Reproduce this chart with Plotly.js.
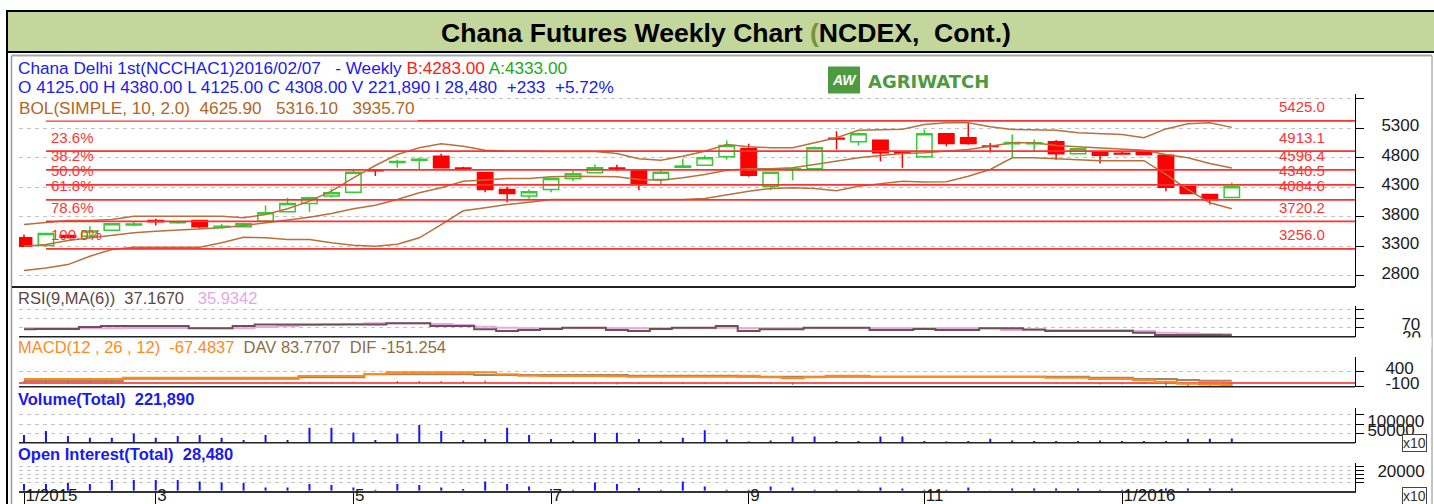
<!DOCTYPE html>
<html><head><meta charset="utf-8">
<script src="https://cdn.plot.ly/plotly-3.0.1.min.js"></script>
<style>html,body{margin:0;padding:0;background:#fff;overflow:hidden}#chart{width:1434px;height:504px}</style>
</head><body><div id="chart"></div>
<script>
// ---------- DATA ----------
const weeks = ['2015-01-18','2015-01-25','2015-02-01','2015-02-08','2015-02-15','2015-02-22','2015-03-01','2015-03-08','2015-03-15','2015-03-22','2015-03-29','2015-04-05','2015-04-12','2015-04-19','2015-04-26','2015-05-03','2015-05-10','2015-05-17','2015-05-24','2015-05-31','2015-06-07','2015-06-14','2015-06-21','2015-06-28','2015-07-05','2015-07-12','2015-07-19','2015-07-26','2015-08-02','2015-08-09','2015-08-16','2015-08-23','2015-08-30','2015-09-06','2015-09-13','2015-09-20','2015-09-27','2015-10-04','2015-10-11','2015-10-18','2015-10-25','2015-11-01','2015-11-08','2015-11-15','2015-11-22','2015-11-29','2015-12-06','2015-12-13','2015-12-20','2015-12-27','2016-01-03','2016-01-10','2016-01-17','2016-01-24','2016-01-31','2016-02-07'];
const openP  = [3442,3310,3480,3470,3571,3660,3735,3700,3735,3625,3630,3724,3884,4024,4150,4216,4590,4720,4760,4827,4625,4545,4262,4150,4262,4450,4545,4625,4585,4432,4640,4674,4817,4958,4318,4600,4613,5130,5071,5099,4895,4817,5207,5139,5000,5040,5040,5072,4868,4902,4875,4912,4844,4308,4177,4125];
const highP  = [3499,3530,3500,3640,3690,3720,3765,3725,3750,3680,3690,3990,4121,4140,4274,4613,4600,4765,4800,4870,4650,4560,4308,4262,4460,4580,4686,4680,4600,4600,4783,4839,5093,5037,4560,4640,4990,5251,5230,5110,4900,5280,5220,5404,5050,5195,5110,5100,4965,4920,4900,4920,4860,4330,4190,4380];
const lowP   = [3290,3290,3430,3440,3560,3640,3650,3680,3595,3600,3620,3710,3870,3884,4120,4200,4490,4630,4610,4620,4600,4217,4047,4104,4216,4400,4540,4580,4250,4350,4640,4660,4770,4478,4250,4420,4600,4941,5009,4742,4630,4800,4997,5020,4890,4800,4920,4767,4860,4703,4850,4850,4233,4180,4007,4125];
const closeP = [3300,3515,3450,3560,3680,3675,3715,3715,3630,3640,3680,3867,4024,4121,4206,4556,4580,4735,4775,4630,4615,4262,4194,4223,4450,4530,4630,4610,4347,4556,4660,4800,5009,4505,4556,4615,4970,5120,5207,4885,4880,5207,5043,5043,4990,5060,5055,4868,4953,4844,4865,4856,4301,4194,4092,4308];
const bolUpper = [3668,3707,3736,3736,3753,3809,3809,3815,3821,3810,3782,3838,3935,4064,4233,4460,4669,4856,4970,5037,4997,4929,4912,4905,4905,4905,4905,4873,4783,4760,4827,4912,5026,4987,4970,4970,5054,5139,5268,5280,5285,5365,5394,5394,5326,5280,5268,5268,5224,5212,5195,5139,5290,5377,5394,5316];
const bolMid   = [3300,3329,3397,3442,3481,3527,3555,3572,3595,3612,3651,3697,3736,3792,3855,3935,3996,4092,4206,4291,4403,4432,4449,4449,4478,4488,4488,4480,4432,4420,4460,4517,4590,4613,4613,4630,4686,4742,4800,4839,4873,4885,4912,4941,4997,5054,5054,5009,4987,4970,4953,4929,4856,4800,4703,4626];
const bolLower = [2887,2930,2988,3130,3244,3283,3283,3283,3283,3357,3453,3442,3413,3413,3357,3317,3300,3334,3442,3668,3900,3951,4007,4047,4092,4092,4092,4092,4092,4092,4092,4110,4177,4233,4279,4290,4279,4240,4318,4364,4403,4390,4393,4488,4601,4800,4800,4783,4766,4750,4750,4750,4517,4262,4036,3936];
const rsiValues = [62,63,63,71,75,75,75,75,66,66,75,82,82,82,82,82,82,87,87,75,75,62,55,59,63,68,68,59,55,63,68,68,75,55,62,62,68,68,68,59,59,63,59,59,66,66,61,55,55,55,55,47,38,38,38,37];
const rsiMaValues = [66,66,66,66,66,67,67,67,67,66,66,71,75,80,82,84,87,87,87,84,80,72,68,66,66,66,66,66,66,66,66,66,68,66,66,66,66,66,66,66,66,66,66,66,66,59,59,59,59,59,59,55,47,45,42,42];
const macdValues = [139,139,139,139,139,184,184,184,184,184,184,184,184,241,241,241,310,367,367,367,367,367,300,252,240,240,240,230,218,218,218,218,218,252,200,163,200,252,252,220,220,220,220,220,220,220,220,184,184,139,139,105,48,-20,-45,-67];
const davValues  = [71,71,71,71,71,150,150,150,150,150,150,150,150,197,197,197,299,299,299,299,299,276,276,276,276,276,276,276,252,252,252,252,252,218,218,218,218,218,218,218,218,218,218,218,218,218,218,218,218,184,184,139,139,105,80,84];
const difValues  = [68,68,68,68,68,34,34,34,34,34,34,34,34,44,44,44,11,68,68,68,68,91,24,-24,-36,-36,-36,-46,-34,-34,-34,-34,-34,34,-18,-55,-18,34,34,2,2,2,2,2,2,2,2,-34,-34,-45,-45,-34,-91,-125,-125,-151];
const volumeValues = [412350,626100,358200,267400,267900,497300,266800,358600,412100,267200,144300,411800,144600,802400,801700,551200,144100,465300,947500,625800,143900,198200,802100,412400,198400,107300,535200,534800,198100,107100,267300,668400,176200,70100,123300,337400,337100,91200,91400,337200,336900,91100,70300,91300,214200,123100,91200,91400,91100,123200,91300,91200,91400,214100,214300,221890];
const openInterestValues = [82900,82900,95300,82900,132400,132400,132400,132400,115100,102700,95300,40800,40800,82900,70500,40800,12400,82900,70500,40800,21000,115100,82900,53200,21000,12400,102700,82900,33400,12400,115100,51000,12400,12400,53200,40800,12400,12400,12400,40800,28500,12400,12400,40800,4000,28500,28500,28500,28500,12400,12400,12400,28500,28500,28500,28480];
const fibLevels = [5425.0,4913.1,4596.4,4340.5,4084.6,3720.2,3256.0];
const fibPctLabels = ['','23.6%','38.2%','50.0%','61.8%','78.6%','100.0%'];
const fibValueLabels = ['5425.0','4913.1','4596.4','4340.5','4084.6','3720.2','3256.0'];
const monthTickDates = ['2015-01-18','2015-03-01','2015-05-03','2015-07-05','2015-09-06','2015-11-01','2016-01-03'];
const monthTickLabels = ['1/2015','3','5','7','9','11','1/2016'];
const priceTicks = [2800,3300,3800,4300,4800,5300,5800];
const priceTickLabels = ['2800','3300','3800','4300','4800','5300',''];
const rsiTicks = [70,108,146];
const rsiTickLabels = ['70','',''];
const macdTicks = [-100,400,900];
const macdTickLabels = ['-100','400',''];
const volumeTicks = [500000,1000000,1500000];
const volumeTickLabels = ['50000','100000',''];
const oiTicks = [100000,150000,200000,250000,300000];
const oiTickLabels = ['','','20000','',''];

// ---------- LAYOUT HELPERS ----------
const W = 1434, H = 504;
const px = x => x / W;
const py = y => 1 - y / H;
const FONT = 'Liberation Sans, Arial, sans-serif';
const t0 = Date.parse(weeks[0]);
const wk = Date.parse(weeks[1]) - t0;
const SP = 21.96; // px per week
const toStr = ms => new Date(ms).toISOString().replace('T', ' ').replace('Z', '');
const xStart = toStr(t0 - (24 - 19) / SP * wk);
const xEnd = toStr(t0 + (1355 - 24) / SP * wk);

const gridDash = '4px,4px';
const yCommon = {
  side: 'right', anchor: 'x', showline: true, linecolor: '#000', linewidth: 1,
  ticks: 'outside', ticklen: 8, tickcolor: '#000', tickwidth: 1,
  showgrid: true, gridcolor: '#c4c4c4', griddash: gridDash, gridwidth: 1,
  zeroline: false, tickmode: 'array', ticklabelshift: -3,
  tickfont: {family: FONT, size: 17, color: '#1a1a1a'}, fixedrange: true
};

const traces = [];
// Bollinger bands
[bolUpper, bolMid, bolLower].forEach(arr => traces.push({
  type: 'scatter', mode: 'lines', x: weeks, y: arr, xaxis: 'x', yaxis: 'y',
  line: {color: '#b8703c', width: 1.5}, hoverinfo: 'skip'
}));
// Fibonacci lines
fibLevels.forEach(v => traces.push({
  type: 'scatter', mode: 'lines', x: [weeks[1], xEnd], y: [v, v], xaxis: 'x', yaxis: 'y',
  line: {color: '#ff3030', width: 1.8}, hoverinfo: 'skip'
}));
// Candles
traces.push({
  type: 'candlestick', x: weeks, open: openP, high: highP, low: lowP, close: closeP,
  xaxis: 'x', yaxis: 'y', whiskerwidth: 0, hoverinfo: 'skip',
  increasing: {line: {color: '#33cc33', width: 1.5}, fillcolor: '#ffffff'},
  decreasing: {line: {color: '#ff0000', width: 1.5}, fillcolor: '#ff0000'}
});
// RSI
traces.push({type: 'scatter', mode: 'lines', x: weeks, y: rsiMaValues, xaxis: 'x', yaxis: 'y2',
  line: {color: '#e8a6e8', width: 2, shape: 'hvh'}, hoverinfo: 'skip'});
traces.push({type: 'scatter', mode: 'lines', x: weeks, y: rsiValues, xaxis: 'x', yaxis: 'y2',
  line: {color: '#6e5252', width: 2, shape: 'hvh'}, hoverinfo: 'skip'});
// MACD
traces.push({type: 'bar', x: weeks, y: difValues, xaxis: 'x', yaxis: 'y3',
  width: 1.3 / SP * wk, marker: {color: '#8a6a40', line: {width: 0}}, hoverinfo: 'skip'});
traces.push({type: 'scatter', mode: 'lines', x: weeks, y: davValues, xaxis: 'x', yaxis: 'y3',
  line: {color: '#a8845c', width: 2, shape: 'hvh'}, hoverinfo: 'skip'});
traces.push({type: 'scatter', mode: 'lines', x: weeks, y: macdValues, xaxis: 'x', yaxis: 'y3',
  line: {color: '#ff8a1c', width: 2, shape: 'hvh'}, hoverinfo: 'skip'});
// Volume
traces.push({type: 'bar', x: weeks, y: volumeValues, xaxis: 'x', yaxis: 'y4',
  width: 2 / SP * wk, marker: {color: '#1414ff', line: {width: 0}}, hoverinfo: 'skip'});
// Open interest
traces.push({type: 'bar', x: weeks, y: openInterestValues, xaxis: 'x', yaxis: 'y5',
  width: 2 / SP * wk, marker: {color: '#1414ff', line: {width: 0}}, hoverinfo: 'skip'});

const shapes = [
  // title band
  {type: 'rect', xref: 'paper', yref: 'paper', x0: px(7), x1: px(1440), y0: py(52), y1: py(11),
   fillcolor: '#c3d69b', line: {color: '#000', width: 2}, layer: 'below'},
  // outer frame
  {type: 'line', xref: 'paper', yref: 'paper', x0: px(7), x1: px(7), y0: py(52), y1: py(510), line: {color: '#000', width: 2}},
  {type: 'line', xref: 'paper', yref: 'paper', x0: px(11.5), x1: px(11.5), y0: py(55.5), y1: py(510), line: {color: '#9a9a9a', width: 1.5}},
  {type: 'line', xref: 'paper', yref: 'paper', x0: px(11.5), x1: px(1432), y0: py(55.5), y1: py(55.5), line: {color: '#a8a8a8', width: 2}},
  {type: 'line', xref: 'paper', yref: 'paper', x0: px(1432), x1: px(1432), y0: py(55.5), y1: py(510), line: {color: '#b0b0b0', width: 1.5}},
  // logo box
  {type: 'rect', xref: 'paper', yref: 'paper', x0: px(828), x1: px(860), y0: py(93.5), y1: py(66.5),
   fillcolor: '#4d9a40', line: {width: 0}},
  // panel separators
  {type: 'line', xref: 'paper', yref: 'y domain', x0: px(12), x1: px(1355), y0: 0, y1: 0, line: {color: '#222', width: 2}},
  {type: 'line', xref: 'x domain', yref: 'y2 domain', x0: 0, x1: 1, y0: 0, y1: 0, line: {color: '#222', width: 1.5}},
  {type: 'line', xref: 'x domain', yref: 'y3 domain', x0: 0, x1: 1, y0: 0, y1: 0, line: {color: '#222', width: 1.5}},
  {type: 'line', xref: 'x domain', yref: 'y4 domain', x0: 0, x1: 1, y0: 0, y1: 0, line: {color: '#222', width: 1.5}},
  // MACD zero line
  {type: 'line', xref: 'x domain', yref: 'y3', x0: 0, x1: 1, y0: 0, y1: 0, line: {color: '#ff2020', width: 1.5}, layer: 'below'}
];

const nb = '\u00a0';
const ann = (x, y, text, opts) => Object.assign({
  xref: 'paper', yref: 'paper', x: px(x), y: py(y), text: text, showarrow: false,
  xanchor: 'left', yanchor: 'middle', font: {family: FONT, size: 16, color: '#000'}
}, opts || {});

const annotations = [
  ann(725.5, 33.5, 'Chana Futures Weekly Chart <span style="color:#76923c">(</span>NCDEX,' + nb + nb + 'Cont.)',
      {xanchor: 'center', font: {family: FONT, size: 26.6, color: '#000', weight: 700}}),
  ann(16, 68, 'Chana Delhi 1st(NCCHAC1)2016/02/07' + nb + nb + nb + '- Weekly <span style="color:#ff1a1a">B:4283.00</span> <span style="color:#1aaa1a">A:4333.00</span>',
      {font: {family: FONT, size: 17.2, color: '#2020ee'}}),
  ann(16, 86.5, 'O 4125.00 H 4380.00 L 4125.00 C 4308.00 V 221,890 I 28,480' + nb + nb + '+233' + nb + nb + '+5.72%',
      {font: {family: FONT, size: 17.2, color: '#2020ee'}}),
  ann(16, 108, 'BOL(SIMPLE, 10, 2.0)' + nb + nb + '4625.90' + nb + nb + nb + '5316.10' + nb + nb + nb + '3935.70',
      {font: {family: FONT, size: 17.2, color: '#b5651d'}, bgcolor: '#ffffff', borderpad: 2}),
  ann(844, 80, 'AW', {xanchor: 'center', font: {family: FONT, size: 14, color: '#ffffff', weight: 700, style: 'italic'}}),
  ann(866, 81.5, 'AGRIWATCH', {font: {family: 'DejaVu Sans, sans-serif', size: 18, color: '#4d9a40', weight: 700}}),
  ann(16, 297.5, 'RSI(9,MA(6))' + nb + nb + '37.1670' + nb + nb + nb + '<span style="color:#e6a6e6">35.9342</span>',
      {font: {family: FONT, size: 16.5, color: '#5a4848'}}),
  ann(16, 346.5, '<span style="color:#ff8a1c">MACD(12 , 26 , 12)' + nb + nb + '-67.4837</span>' + nb + nb + 'DAV 83.7707' + nb + nb + 'DIF -151.254',
      {font: {family: FONT, size: 16.5, color: '#8c6e44'}}),
  ann(16, 399, 'Volume(Total)' + nb + nb + '221,890', {font: {family: FONT, size: 16.5, color: '#1a1aee', weight: 700}}),
  ann(16, 454, 'Open Interest(Total)' + nb + nb + '28,480', {font: {family: FONT, size: 16.5, color: '#1a1aee', weight: 700}}),
  // RSI "20" label, partly hidden below the panel
  ann(1400, 337, '20', {font: {family: FONT, size: 17, color: '#1a1a1a'}}),
  ann(1408, 342.5, nb, {xanchor: 'center', width: 46, height: 9, bgcolor: '#ffffff', borderpad: 0}),
  // x10 boxes
  ann(1414.5, 442.5, 'x10', {xanchor: 'center', font: {family: FONT, size: 14, color: '#333'}, bgcolor: '#ffffff', bordercolor: '#444', borderwidth: 1, borderpad: 0}),
  ann(1414.5, 496, 'x10', {xanchor: 'center', font: {family: FONT, size: 14, color: '#333'}, bgcolor: '#ffffff', bordercolor: '#444', borderwidth: 1, borderpad: 0})
];
// Fibonacci labels
fibLevels.forEach((v, k) => {
  annotations.push({xref: 'paper', yref: 'y', x: px(1277), y: v, yshift: 14, text: fibValueLabels[k], showarrow: false,
    xanchor: 'left', yanchor: 'middle', font: {family: FONT, size: 15, color: '#ff3333'}});
  if (fibPctLabels[k]) annotations.push({xref: 'x', yref: 'y', x: weeks[1], xshift: 3, y: v, yshift: 14, text: fibPctLabels[k],
    showarrow: false, xanchor: 'left', yanchor: 'middle', font: {family: FONT, size: 15, color: '#ff3333'}});
});

const layout = {
  width: W, height: H, margin: {l: 0, r: 0, t: 0, b: 0, pad: 0},
  paper_bgcolor: '#ffffff', plot_bgcolor: 'rgba(0,0,0,0)', showlegend: false, hovermode: false,
  barmode: 'overlay', boxgap: 0.3, boxgroupgap: 0,
  xaxis: {type: 'date', domain: [px(19), px(1355)], range: [xStart, xEnd], anchor: 'y5',
    showline: true, linecolor: '#333', linewidth: 2, ticks: 'outside', ticklen: 14, tickcolor: '#000', tickwidth: 1,
    tickmode: 'array', tickvals: monthTickDates, ticktext: monthTickLabels, ticklabelposition: 'outside right',
    ticklabelstandoff: -12, tickfont: {family: FONT, size: 17, color: '#1a1a1a'}, showgrid: false, zeroline: false,
    rangeslider: {visible: false}, fixedrange: true},
  yaxis: Object.assign({}, yCommon, {domain: [py(287), py(94.3)], range: [2608, 5877],
    tickvals: priceTicks, ticktext: priceTickLabels, ticklabelstandoff: 14}),
  yaxis2: Object.assign({}, yCommon, {domain: [py(336.7), py(306)], range: [30.8, 158.75],
    tickvals: rsiTicks, ticktext: rsiTickLabels, ticklabelstandoff: 34}),
  yaxis3: Object.assign({}, yCommon, {domain: [py(386.7), py(356.7)], range: [-122, 898],
    tickvals: macdTicks, ticktext: macdTickLabels, ticklabelstandoff: 18}),
  yaxis4: Object.assign({}, yCommon, {domain: [py(442.7), py(407.7)], range: [0, 1871658],
    tickvals: volumeTicks, ticktext: volumeTickLabels, ticklabelstandoff: 0}),
  yaxis5: Object.assign({}, yCommon, {domain: [py(490.7), py(462.7)], range: [0, 346500],
    tickvals: oiTicks, ticktext: oiTickLabels, ticklabelstandoff: 10}),
  shapes: shapes,
  annotations: annotations
};

Plotly.newPlot('chart', traces, layout, {staticPlot: true, displayModeBar: false});
</script>
</body></html>
